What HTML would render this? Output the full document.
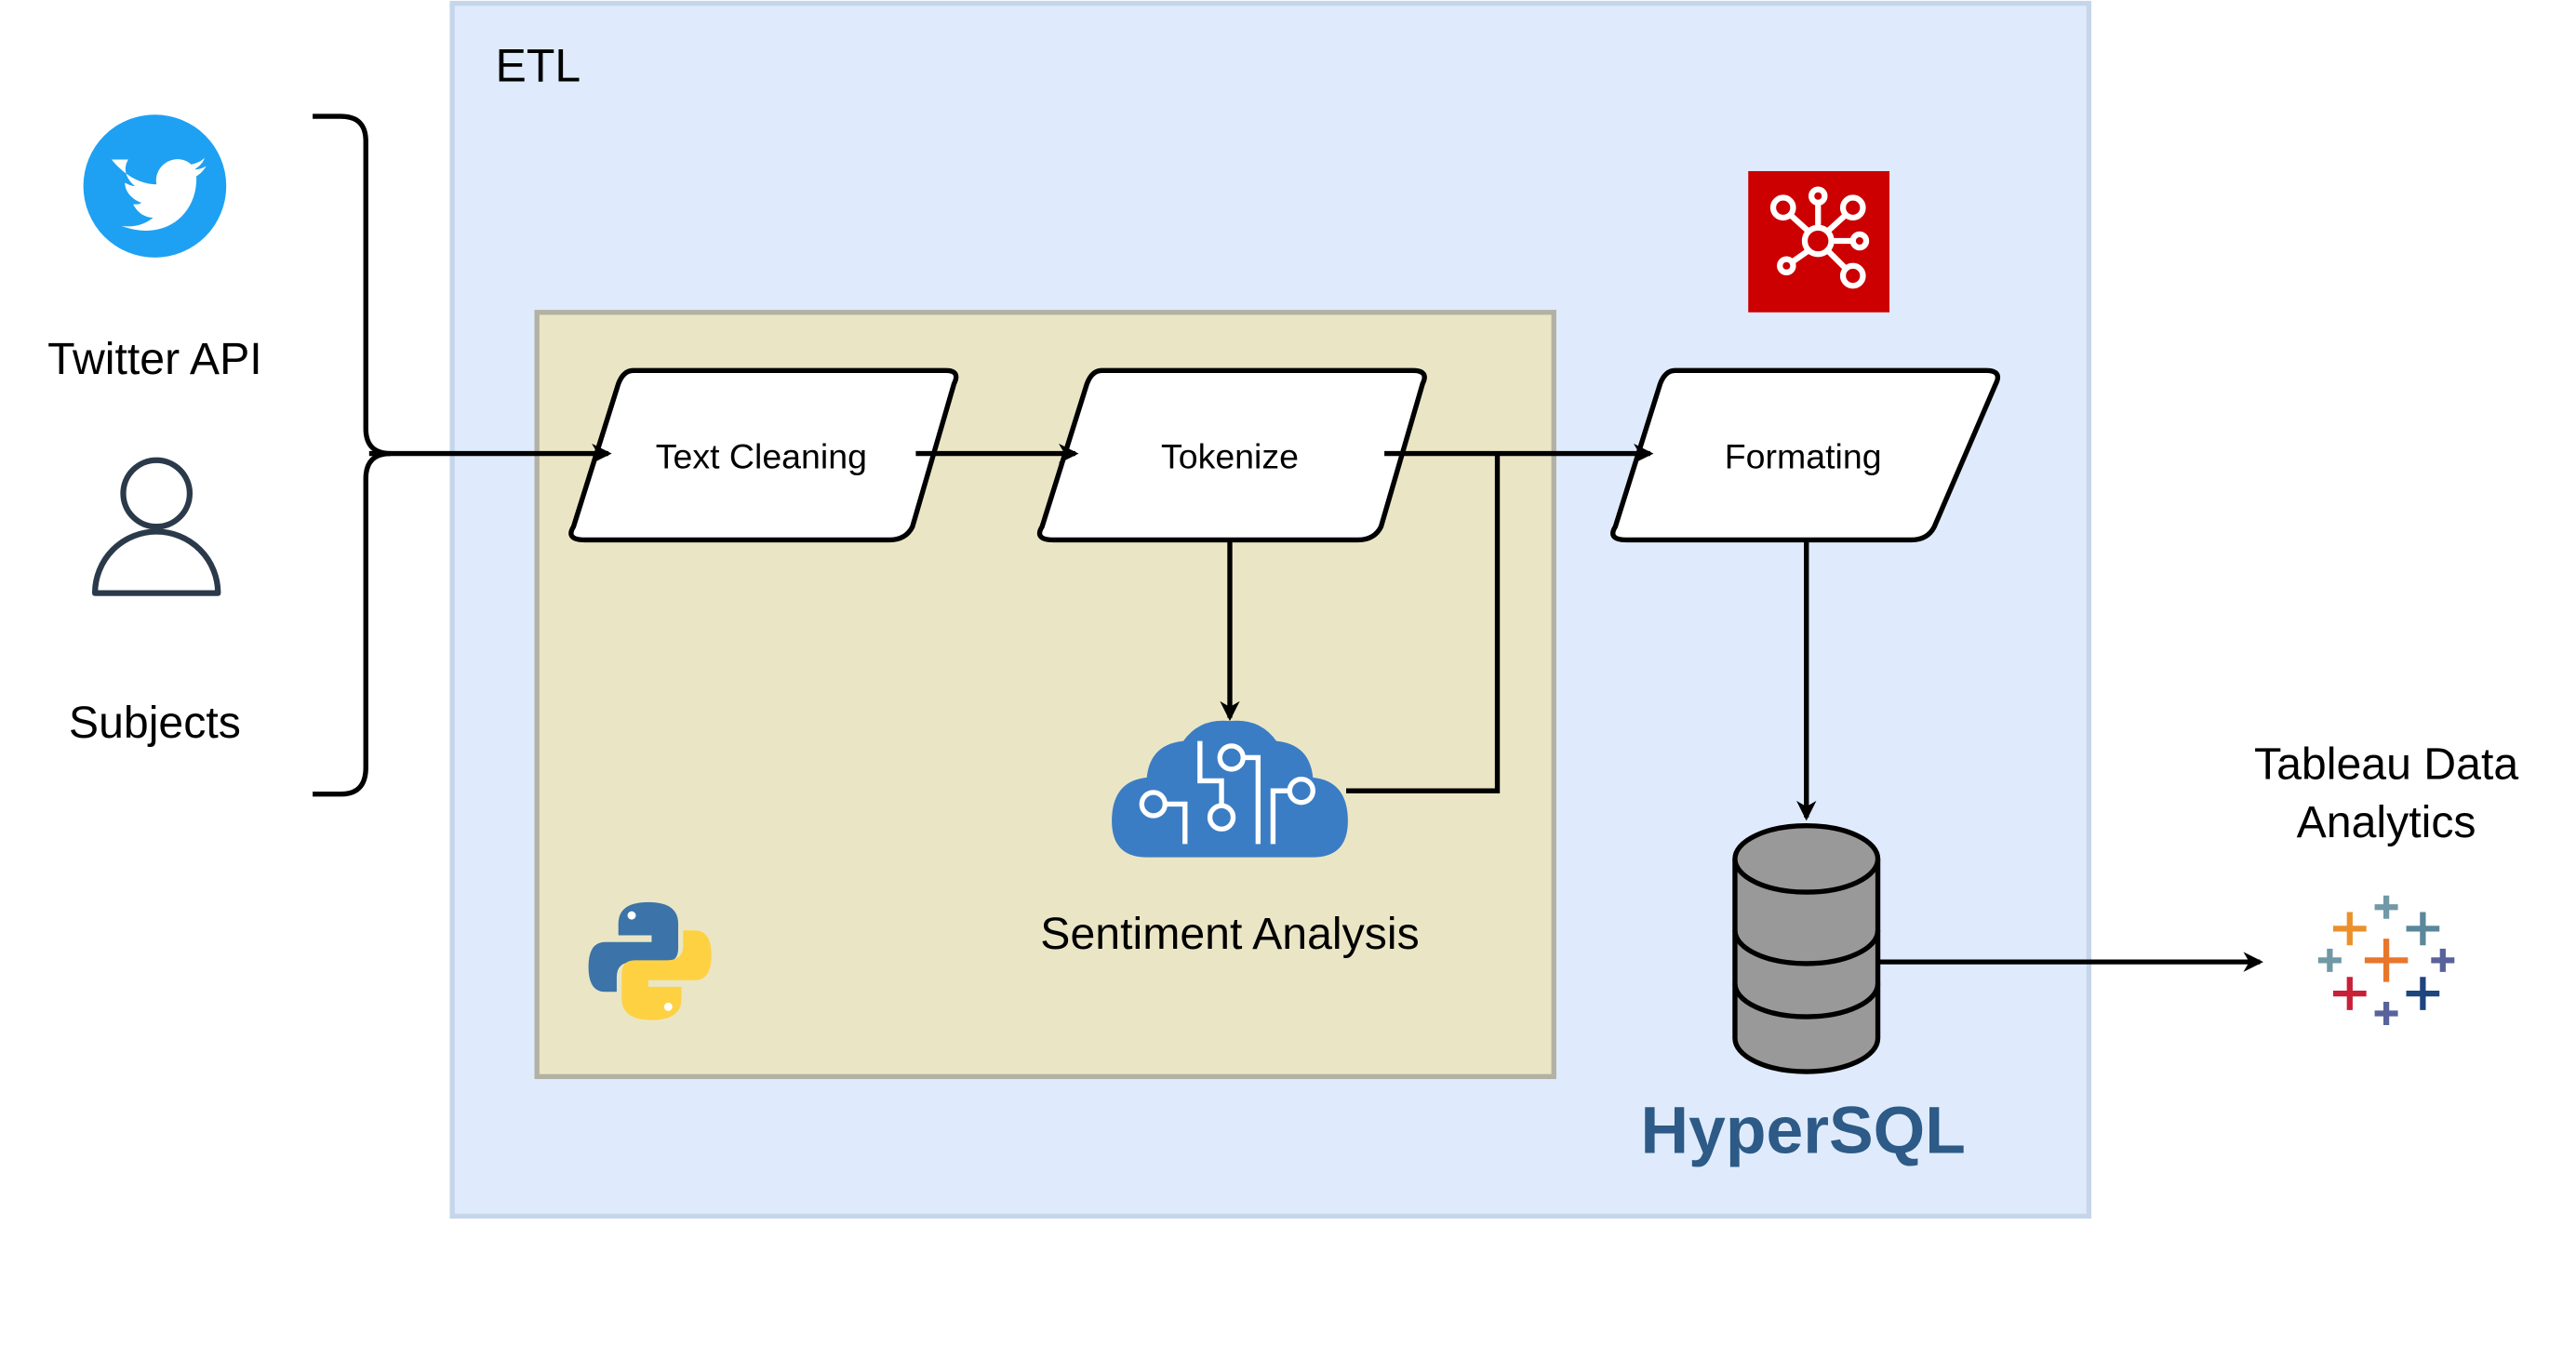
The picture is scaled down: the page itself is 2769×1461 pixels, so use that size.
<!DOCTYPE html>
<html><head><meta charset="utf-8"><style>
html,body{margin:0;padding:0;background:#fff;}
svg{display:block;}
text{font-family:"Liberation Sans","DejaVu Sans",sans-serif;}
</style></head><body>
<svg width="2769" height="1461" viewBox="0 0 1550 818" xmlns="http://www.w3.org/2000/svg">
<defs>
<marker id="ah" markerWidth="12" markerHeight="12" refX="10" refY="6" orient="auto" markerUnits="userSpaceOnUse" viewBox="0 0 12 12">
<path d="M0,0 L12,6 L0,12 L3.5,6 Z" fill="#000"/></marker>
</defs>
<rect x="0" y="0" width="1550" height="818" fill="#fff"/>
<rect x="272" y="2" width="985" height="730" fill="#dfebfc" stroke="#c6d6ea" stroke-width="3"/>
<text x="298" y="49" font-size="28" fill="#000">ETL</text>
<rect x="323" y="188" width="612" height="460" fill="#eae6c5" stroke="#b3b1a3" stroke-width="3"/>

<!-- Twitter -->
<circle cx="93" cy="112" r="43" fill="#1ea1f2"/>
<path d="M67,96 c8,10 18,15 27,15 c-2,-12 12,-20 21,-12 c4,-1 6,-2 8,-4 c-1,3 -3,5 -6,7 c3,0 5,-1 7,-2 c-2,3 -4,5 -6,6 c1,22 -18,40 -45,30 c8,1 14,-1 19,-5 c-6,0 -10,-4 -12,-8 c2,0 4,0 5,-1 c-6,-2 -10,-7 -10,-12 c2,1 4,2 6,2 c-6,-5 -7,-11 -4,-16 z" fill="#fff"/>
<text x="93" y="225" font-size="27" text-anchor="middle">Twitter API</text>
<circle cx="94" cy="297" r="20" fill="none" stroke="#2b3a4a" stroke-width="3.5"/>
<path d="M57,357 A37,37 0 0 1 131,357 Z" fill="none" stroke="#2b3a4a" stroke-width="3.5" stroke-linejoin="round"/>
<text x="93" y="444" font-size="27" text-anchor="middle">Subjects</text>

<!-- brace -->
<path d="M188,70 H205 Q220,70 220,85 V258 Q220,273 235,273 Q220,273 220,288 V462 Q220,478 205,478 H188" fill="none" stroke="#000" stroke-width="3"/>

<!-- parallelograms -->
<g fill="#fff" stroke="#000" stroke-width="3" stroke-linejoin="round">
<path d="M381,223 H569 Q578,223 574,231 L549,317 Q545,325 535,325 H352 Q340,325 345,317 L372,231 Q375,223 381,223 Z"/>
<path d="M663,223 H850 Q860,223 856,231 L831,317 Q827,325 817,325 H634 Q622,325 627,317 L654,231 Q657,223 663,223 Z"/>
<path d="M1008,223 H1195 Q1205,223 1201,231 L1164,317 Q1160,325 1150,325 H979 Q967,325 972,317 L999,231 Q1002,223 1008,223 Z"/>
</g>
<text x="458" y="282" font-size="21" text-anchor="middle">Text Cleaning</text>
<text x="740" y="282" font-size="21" text-anchor="middle">Tokenize</text>
<text x="1085" y="282" font-size="21" text-anchor="middle">Formating</text>

<g stroke="#000" stroke-width="3" fill="none">
<line x1="222" y1="273" x2="366" y2="273" marker-end="url(#ah)"/>
<line x1="551" y1="273" x2="647" y2="273" marker-end="url(#ah)"/>
<line x1="833" y1="273" x2="993" y2="273" marker-end="url(#ah)"/>
<polyline points="810,476 901,476 901,273"/>
<line x1="740" y1="325" x2="740" y2="432" marker-end="url(#ah)"/>
<line x1="1087" y1="325" x2="1087" y2="492" marker-end="url(#ah)"/>
<line x1="1130" y1="579" x2="1360" y2="579" marker-end="url(#ah)"/>
</g>

<!-- brain cloud -->
<path d="M690,516 Q668,516 669,492 Q670,470 690,468 Q692,448 712,446 Q722,432 740,434 Q758,432 768,446 Q788,448 790,468 Q810,470 811,492 Q812,516 790,516 Z" fill="#3b7dc4"/>
<g stroke="#fff" stroke-width="3" fill="none">
<circle cx="694" cy="484" r="7"/><circle cx="741" cy="456" r="7"/><circle cx="735" cy="492" r="7"/><circle cx="783" cy="476" r="7"/>
<polyline points="701,484 713,484 713,508"/>
<polyline points="722,446 722,470 735,470 735,485"/>
<polyline points="748,456 757,456 757,508"/>
<polyline points="776,476 766,476 766,508"/>
</g>
<text x="740" y="571" font-size="27" text-anchor="middle">Sentiment Analysis</text>

<!-- python -->
<path d="M390,543 Q372,543 372,556 V563 H392 V567 H364 Q354,567 354,582 Q354,597 364,597 H371 V588 Q371,579 381,579 H400 Q408,579 408,571 V556 Q408,543 390,543 Z" fill="#3c73a8"/>
<path d="M392,614 Q410,614 410,601 V594 H390 V590 H418 Q428,590 428,575 Q428,560 418,560 H411 V569 Q411,578 401,578 H382 Q374,578 374,586 V601 Q374,614 392,614 Z" fill="#fed142"/>
<circle cx="380" cy="551" r="2.5" fill="#fff"/><circle cx="402" cy="606" r="2.5" fill="#fff"/>

<!-- red square -->
<rect x="1052" y="103" width="85" height="85" fill="#cc0000"/>
<g stroke="#fff" stroke-width="3.5" fill="none">
<circle cx="1094" cy="145" r="8"/>
<circle cx="1073" cy="125" r="6"/><circle cx="1094" cy="118" r="4"/><circle cx="1115" cy="125" r="6"/>
<circle cx="1075" cy="160" r="4"/><circle cx="1115" cy="166" r="6"/><circle cx="1119" cy="145" r="4"/>
<line x1="1088" y1="139" x2="1077" y2="129"/><line x1="1094" y1="137" x2="1094" y2="122"/><line x1="1100" y1="139" x2="1111" y2="129"/>
<line x1="1088" y1="151" x2="1078" y2="158"/><line x1="1100" y1="151" x2="1111" y2="162"/><line x1="1102" y1="145" x2="1115" y2="145"/>
</g>

<!-- database -->
<g stroke="#000" stroke-width="3" fill="#999">
<path d="M1044,517 V625 A43,20 0 0 0 1130,625 V517"/>
<ellipse cx="1087" cy="517" rx="43" ry="20"/>
<path d="M1044,560 A43,20 0 0 0 1130,560" fill="none"/>
<path d="M1044,592 A43,20 0 0 0 1130,592" fill="none"/>
</g>
<text x="1085" y="694" font-size="40" font-weight="bold" text-anchor="middle" fill="#2d5a86">HyperSQL</text>

<!-- tableau -->
<text x="1436" y="469" font-size="27" text-anchor="middle">Tableau Data</text>
<text x="1436" y="504" font-size="27" text-anchor="middle">Analytics</text>
<g stroke-width="3.5">
<path d="M1436,565 v26 M1423,578 h26" stroke="#e8762b"/>
<path d="M1414,549 v20 M1404,559 h20" stroke="#eb912c"/>
<path d="M1458,549 v20 M1448,559 h20" stroke="#5b879b"/>
<path d="M1414,588 v20 M1404,598 h20" stroke="#c72037"/>
<path d="M1458,588 v20 M1448,598 h20" stroke="#1f457e"/>
<path d="M1436,539 v14 M1429,546 h14" stroke="#7199a6"/>
<path d="M1436,603 v14 M1429,610 h14" stroke="#59629a"/>
<path d="M1402,571 v14 M1395,578 h14" stroke="#7099a6"/>
<path d="M1470,571 v14 M1463,578 h14" stroke="#59629a"/>
</g>
</svg>
</body></html>
